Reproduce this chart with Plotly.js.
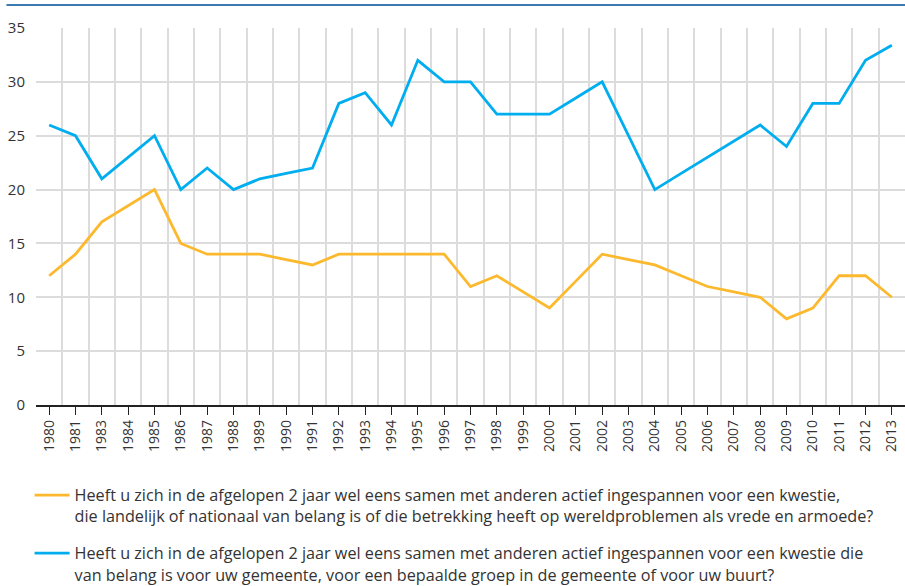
<!DOCTYPE html>
<html>
<head>
<meta charset="utf-8">
<script src="https://cdn.plot.ly/plotly-3.0.1.min.js"></script>
<style>html,body{margin:0;padding:0;background:#fff;}#chart{width:905px;height:586px;}</style>
</head>
<body>
<div id="chart"></div>
<script>
const years = ["1980","1981","1983","1984","1985","1986","1987","1988","1989","1990","1991","1992","1993","1994","1995","1996","1997","1998","1999","2000","2001","2002","2003","2004","2005","2006","2007","2008","2009","2010","2011","2012","2013"];
const landelijk = [12,14,17,18.5,20,15,14,14,14,13.5,13,14,14,14,14,14,11,12,10.5,9,11.5,14,13.5,13,12,11,10.5,10,8,9,12,12,10];
const gemeente = [26,25,21,23,25,20,22,20,21,21.5,22,28,29,26,32,30,30,27,27,27,28.5,30,25,20,21.5,23,24.5,26,24,28,28,32,33.4];
const yTicks = [0,5,10,15,20,25,30,35];
const label1 = "Heeft u zich in de afgelopen 2 jaar wel eens samen met anderen actief ingespannen voor een kwestie,<br>die landelijk of nationaal van belang is of die betrekking heeft op wereldproblemen als vrede en armoede?";
const label2 = "Heeft u zich in de afgelopen 2 jaar wel eens samen met anderen actief ingespannen voor een kwestie die<br>van belang is voor uw gemeente, voor een bepaalde groep in de gemeente of voor uw buurt?";

const idx = years.map((_, i) => i);

const traces = [
  {x: idx, y: landelijk, type: 'scatter', mode: 'lines', name: label1, legendgroup: 'a',
   line: {color: '#FDB92E', width: 2.8}},
  {x: idx, y: gemeente, type: 'scatter', mode: 'lines', name: label2, legendgroup: 'b',
   line: {color: '#00AEEF', width: 2.8}}
];

const layout = {
  width: 905, height: 586,
  margin: {l: 36, r: 0, t: 28, b: 181, autoexpand: false},
  paper_bgcolor: '#fff', plot_bgcolor: '#fff',
  font: {family: 'Open Sans, sans-serif', color: '#333', size: 14},
  showlegend: true,
  xaxis: {
    range: [-0.5, 32.5], fixedrange: true, automargin: false,
    tickmode: 'array', tickvals: idx, ticktext: years,
    tickangle: -90, ticks: 'outside', ticklen: 8, tickwidth: 1.3, tickcolor: '#222',
    showgrid: false, zeroline: false,
    showline: true, linecolor: '#222', linewidth: 1.5,
    tickfont: {size: 14, color: '#333'},
    minor: {tickmode: 'linear', tick0: -0.5, dtick: 1, showgrid: true, gridcolor: '#dcdcdc', gridwidth: 2, ticks: ''}
  },
  yaxis: {
    range: [0, 35], fixedrange: true, automargin: false,
    tickmode: 'array', tickvals: yTicks,
    showgrid: true, gridcolor: '#dcdcdc', gridwidth: 2,
    zeroline: false, showline: false, ticks: '',
    ticklabelstandoff: 10,
    tickfont: {size: 15, color: '#333'}
  },
  legend: {
    xref: 'container', yref: 'container',
    x: 0.0327, y: 1 - 478/586, xanchor: 'left', yanchor: 'top',
    orientation: 'v', traceorder: 'grouped', tracegroupgap: 13, valign: 'top',
    font: {size: 16.2, color: '#333'},
    bgcolor: 'rgba(0,0,0,0)', itemwidth: 35
  },
  shapes: [
    {type: 'line', xref: 'paper', yref: 'paper', x0: -0.034, x1: 1, y0: 1 + 23/377, y1: 1 + 23/377,
     line: {color: '#3D7AB0', width: 2}}
  ]
};

Plotly.newPlot('chart', traces, layout, {displayModeBar: false, staticPlot: true});
</script>
</body>
</html>
